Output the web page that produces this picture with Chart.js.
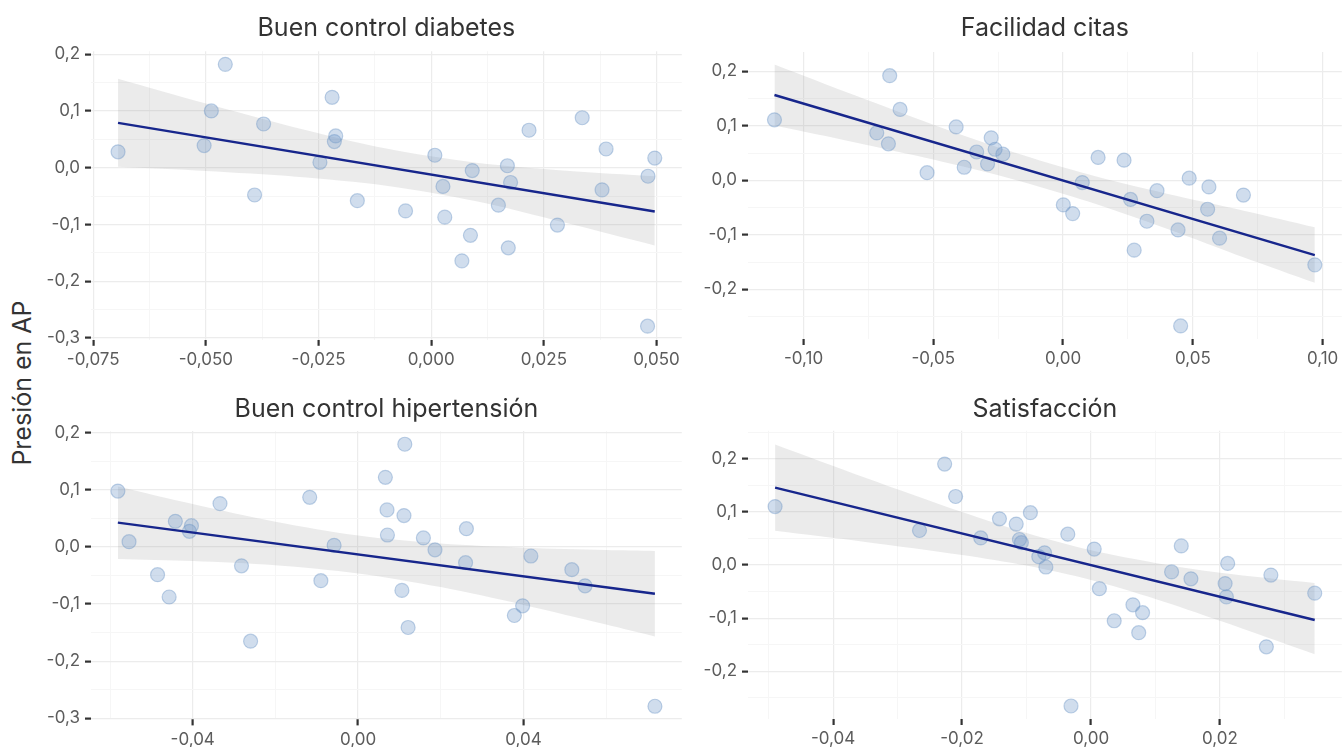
<!DOCTYPE html>
<html lang="es">
<head>
<meta charset="utf-8">
<title>Presión en AP</title>
<script src="https://cdn.jsdelivr.net/npm/chart.js@4.4.1/dist/chart.umd.min.js"></script>
<style>
  html, body { margin: 0; padding: 0; background: #fff; overflow: hidden; width: 1342px; height: 747px; }
  #wrap { position: relative; width: 1342px; height: 747px; overflow: hidden; }
  #wrap canvas { position: absolute; }
  #ytitle {
    position: absolute; left: 22px; top: 383px;
    transform: translate(-50%, -50%) rotate(-90deg);
    font: 25px Inter, "Noto Sans", sans-serif; color: #333; white-space: nowrap;
  }
</style>
</head>
<body>
<div id="wrap">
  <div id="ytitle">Presión en AP</div>
  <canvas id="c1" width="650" height="375" style="left:40px;top:0px"></canvas>
  <canvas id="c2" width="660" height="375" style="left:690px;top:0px"></canvas>
  <canvas id="c3" width="650" height="367" style="left:40px;top:380px"></canvas>
  <canvas id="c4" width="660" height="367" style="left:690px;top:380px"></canvas>
</div>
<script>
// ---- Buen control diabetes ----
const diabetesX = [-0.0695,-0.0457,-0.0488,-0.0504,-0.0372,-0.0392,-0.0220,-0.0212,-0.0215,-0.0247,-0.0164,-0.0057,0.0008,0.0026,0.0091,0.0030,0.0087,0.0068,0.0149,0.0169,0.0176,0.0171,0.0217,0.0280,0.0335,0.0388,0.0379,0.0481,0.0496,0.0480];
const diabetesY = [0.028,0.182,0.100,0.039,0.077,-0.048,0.124,0.056,0.046,0.0095,-0.058,-0.076,0.022,-0.033,-0.005,-0.087,-0.119,-0.164,-0.066,0.0035,-0.026,-0.141,0.066,-0.101,0.088,0.033,-0.039,-0.015,0.017,-0.279];
const diabetesFitX = [-0.0695, 0.0496];
const diabetesFitY = [0.079, -0.077];
const diabetesBandX  = [-0.0695, -0.05, -0.03, -0.01, 0.01, 0.03, 0.0496];
const diabetesBandHi = [0.1565, 0.1129, 0.0705, 0.0338, 0.0089, -0.0052, -0.0150];
const diabetesBandLo = [0.0015, -0.0059, -0.0159, -0.0316, -0.0591, -0.0974, -0.1370];
const diabetesXTicks = [-0.075, -0.05, -0.025, 0, 0.025, 0.05];
const diabetesXLabels = ['-0,075', '-0,050', '-0,025', '0,000', '0,025', '0,050'];
const diabetesYTicks = [-0.3, -0.2, -0.1, 0, 0.1, 0.2];
const diabetesYLabels = ['-0,3', '-0,2', '-0,1', '0,0', '0,1', '0,2'];

// ---- Facilidad citas ----
const citasX = [-0.1112,-0.0668,-0.0628,-0.0718,-0.0673,-0.0524,-0.0412,-0.0381,-0.0333,-0.0277,-0.0262,-0.0291,-0.0232,0.0135,0.0235,0.0074,0.0001,0.0037,0.0260,0.0362,0.0323,0.0274,0.0443,0.0486,0.0562,0.0557,0.0603,0.0695,0.0970,0.0453];
const citasY = [0.111,0.192,0.130,0.087,0.067,0.014,0.098,0.024,0.052,0.078,0.057,0.030,0.048,0.042,0.037,-0.004,-0.045,-0.061,-0.035,-0.019,-0.075,-0.128,-0.091,0.004,-0.012,-0.053,-0.106,-0.027,-0.155,-0.267];
const citasFitX = [-0.1112, 0.0970];
const citasFitY = [0.1565, -0.137];
const citasBandX  = [-0.1112, -0.08, -0.05, -0.02, 0.01, 0.04, 0.07, 0.097];
const citasBandHi = [0.2124, 0.1554, 0.1022, 0.0528, 0.0105, -0.0247, -0.0561, -0.0860];
const citasBandLo = [0.1006, 0.0696, 0.0382, 0.0030, -0.0393, -0.0887, -0.1419, -0.1880];
const citasXTicks = [-0.10, -0.05, 0, 0.05, 0.10];
const citasXLabels = ['-0,10', '-0,05', '0,00', '0,05', '0,10'];
const citasYTicks = [-0.2, -0.1, 0, 0.1, 0.2];
const citasYLabels = ['-0,2', '-0,1', '0,0', '0,1', '0,2'];

// ---- Buen control hipertensión ----
const hiperX = [-0.0581,-0.0554,-0.0485,-0.0457,-0.0442,-0.0403,-0.0408,-0.0334,-0.0282,-0.0260,-0.0117,-0.0090,-0.0058,0.0113,0.0066,0.0070,0.0111,0.0071,0.0158,0.0186,0.0262,0.0260,0.0106,0.0121,0.0418,0.0398,0.0378,0.0517,0.0549,0.0718];
const hiperY = [0.098,0.0093,-0.0485,-0.0876,0.045,0.0373,0.0275,0.076,-0.033,-0.165,0.087,-0.059,0.003,0.180,0.122,0.065,0.055,0.021,0.0158,-0.005,0.032,-0.0275,-0.076,-0.141,-0.0158,-0.103,-0.120,-0.0397,-0.068,-0.279];
const hiperFitX = [-0.0581, 0.0718];
const hiperFitY = [0.0426, -0.0818];
const hiperBandX  = [-0.0581, -0.04, -0.02, 0, 0.02, 0.04, 0.06, 0.0718];
const hiperBandHi = [0.1061, 0.0753, 0.0442, 0.0201, 0.0059, -0.0014, -0.0054, -0.0070];
const hiperBandLo = [-0.0209, -0.0247, -0.0320, -0.0463, -0.0703, -0.1014, -0.1356, -0.1566];
const hiperXTicks = [-0.04, 0, 0.04];
const hiperXLabels = ['-0,04', '0,00', '0,04'];
const hiperYTicks = [-0.3, -0.2, -0.1, 0, 0.1, 0.2];
const hiperYLabels = ['-0,3', '-0,2', '-0,1', '0,0', '0,1', '0,2'];

// ---- Satisfacción ----
const satisX = [-0.0490,-0.0227,-0.0210,-0.0266,-0.0171,-0.0142,-0.0116,-0.0111,-0.0108,-0.0094,-0.0072,-0.0081,-0.0070,-0.0036,0.0005,0.0013,0.0036,-0.0031,0.0065,0.0080,0.0074,0.0125,0.0140,0.0155,0.0212,0.0208,0.0210,0.0279,0.0272,0.0347];
const satisY = [0.110,0.190,0.129,0.065,0.051,0.087,0.077,0.048,0.042,0.0985,0.023,0.0156,-0.0038,0.058,0.030,-0.0446,-0.105,-0.2655,-0.075,-0.0898,-0.1275,-0.013,0.036,-0.026,0.003,-0.035,-0.060,-0.019,-0.154,-0.053];
const satisFitX = [-0.0490, 0.0347];
const satisFitY = [0.1456, -0.1036];
const satisBandX  = [-0.049, -0.035, -0.02, -0.01, 0, 0.01, 0.02, 0.0347];
const satisBandHi = [0.2269, 0.1643, 0.0996, 0.0601, 0.0276, 0.0039, -0.0146, -0.0340];
const satisBandLo = [0.0643, 0.0435, 0.0190, -0.0011, -0.0282, -0.0639, -0.1050, -0.1680];
const satisXTicks = [-0.04, -0.02, 0, 0.02];
const satisXLabels = ['-0,04', '-0,02', '0,00', '0,02'];
const satisYTicks = [-0.2, -0.1, 0, 0.1, 0.2];
const satisYLabels = ['-0,2', '-0,1', '0,0', '0,1', '0,2'];

// ---- shared styling ----
const FONT = 'Inter, "Noto Sans", sans-serif';
const POINT_FILL = 'rgba(110,150,198,0.32)';
const POINT_EDGE = 'rgba(110,150,198,0.42)';
const FIT_COLOR = '#17268c';
const BAND_COLOR = 'rgba(153,153,153,0.2)';
const GRID_MAJOR = '#ececec';
const GRID_MINOR = '#f6f6f6';
const TICK_COLOR = '#333333';

const zip = (xs, ys) => xs.map((x, i) => ({ x, y: ys[i] }));
const isMajor = (v, majors) => majors.some(m => Math.abs(m - v) < 1e-9);

// major ticks plus the half-step minor grid positions inside the range
function gridValues(majors, min, max) {
  const step = majors[1] - majors[0];
  const out = [];
  for (let v = majors[0] - step / 2; v <= max + 1e-12; v += step / 2) {
    if (v >= min - 1e-12) out.push(Math.round(v * 1e6) / 1e6);
  }
  return out;
}

function axis(cfg) {
  return {
    type: 'linear',
    min: cfg.min, max: cfg.max,
    afterBuildTicks: (sc) => { sc.ticks = gridValues(cfg.ticks, cfg.min, cfg.max).map(v => ({ value: v })); },
    afterFit: (sc) => { if (cfg.width !== undefined) sc.width = cfg.width; if (cfg.height !== undefined) sc.height = cfg.height; },
    border: { display: false },
    grid: {
      drawTicks: true,
      tickLength: 6,
      tickWidth: 2.2,
      lineWidth: (ctx) => isMajor(ctx.tick.value, cfg.ticks) ? 1.2 : 1,
      color: (ctx) => isMajor(ctx.tick.value, cfg.ticks) ? GRID_MAJOR : GRID_MINOR,
      tickColor: (ctx) => isMajor(ctx.tick.value, cfg.ticks) ? TICK_COLOR : 'rgba(0,0,0,0)'
    },
    ticks: {
      autoSkip: false, maxRotation: 0, minRotation: 0,
      padding: cfg.pad,
      color: '#5c5c5c',
      font: { family: FONT, size: 17 },
      callback: (v) => {
        const i = cfg.ticks.findIndex(m => Math.abs(m - v) < 1e-9);
        return i >= 0 ? cfg.labels[i] : '';
      }
    }
  };
}

function panel(p) {
  return new Chart(document.getElementById(p.id), {
    type: 'scatter',
    data: {
      datasets: [
        { data: zip(p.fitX, p.fitY), showLine: true, borderColor: FIT_COLOR, borderWidth: 2.4, pointRadius: 0, fill: false },
        { data: zip(p.xs, p.ys), pointRadius: 7, backgroundColor: POINT_FILL, borderColor: POINT_EDGE, borderWidth: 1.2 },
        { data: zip(p.bandX, p.bandHi), showLine: true, borderWidth: 0, pointRadius: 0, backgroundColor: BAND_COLOR, fill: '+1', tension: 0.3 },
        { data: zip(p.bandX, p.bandLo), showLine: true, borderWidth: 0, pointRadius: 0, fill: false, tension: 0.3 }
      ]
    },
    options: {
      responsive: false, animation: false, events: [], devicePixelRatio: 1,
      layout: { padding: { left: 0, right: p.padRight, top: 0, bottom: 0 } },
      plugins: {
        legend: { display: false },
        tooltip: { enabled: false },
        title: {
          display: true, text: p.title, fullSize: false,
          color: '#333333', font: { family: FONT, size: 25, weight: 'normal', lineHeight: 1.2 },
          padding: { top: p.titleTop, bottom: p.titleBottom }
        }
      },
      scales: {
        x: axis({ min: p.xMin, max: p.xMax, ticks: p.xTicks, labels: p.xLabels, height: p.xHeight, pad: 4 }),
        y: axis({ min: p.yMin, max: p.yMax, ticks: p.yTicks, labels: p.yLabels, width: p.yWidth, pad: 5 })
      }
    }
  });
}

// title block: top padding + 30px line + bottom padding = chart area top
panel({ id: 'c1', title: 'Buen control diabetes',
  xs: diabetesX, ys: diabetesY, fitX: diabetesFitX, fitY: diabetesFitY,
  bandX: diabetesBandX, bandHi: diabetesBandHi, bandLo: diabetesBandLo,
  xTicks: diabetesXTicks, xLabels: diabetesXLabels, yTicks: diabetesYTicks, yLabels: diabetesYLabels,
  xMin: -0.0755, xMax: 0.0556, yMin: -0.303, yMax: 0.205,
  yWidth: 51, xHeight: 35.2, padRight: 4, titleTop: 13, titleBottom: 8.3 });

panel({ id: 'c2', title: 'Facilidad citas',
  xs: citasX, ys: citasY, fitX: citasFitX, fitY: citasFitY,
  bandX: citasBandX, bandHi: citasBandHi, bandLo: citasBandLo,
  xTicks: citasXTicks, xLabels: citasXLabels, yTicks: citasYTicks, yLabels: citasYLabels,
  xMin: -0.1214, xMax: 0.1074, yMin: -0.291, yMax: 0.2356,
  yWidth: 58, xHeight: 36, padRight: 7, titleTop: 13, titleBottom: 8.9 });

panel({ id: 'c3', title: 'Buen control hipertensión',
  xs: hiperX, ys: hiperY, fitX: hiperFitX, fitY: hiperFitY,
  bandX: hiperBandX, bandHi: hiperBandHi, bandLo: hiperBandLo,
  xTicks: hiperXTicks, xLabels: hiperXLabels, yTicks: hiperYTicks, yLabels: hiperYLabels,
  xMin: -0.0646, xMax: 0.0783, yMin: -0.302, yMax: 0.203,
  yWidth: 51, xHeight: 27.6, padRight: 4, titleTop: 14, titleBottom: 7.1 });

panel({ id: 'c4', title: 'Satisfacción',
  xs: satisX, ys: satisY, fitX: satisFitX, fitY: satisFitY,
  bandX: satisBandX, bandHi: satisBandHi, bandLo: satisBandLo,
  xTicks: satisXTicks, xLabels: satisXLabels, yTicks: satisYTicks, yLabels: satisYLabels,
  xMin: -0.0532, xMax: 0.0389, yMin: -0.290, yMax: 0.2527,
  yWidth: 58, xHeight: 28, padRight: 7, titleTop: 14, titleBottom: 6.8 });
</script>
</body>
</html>
